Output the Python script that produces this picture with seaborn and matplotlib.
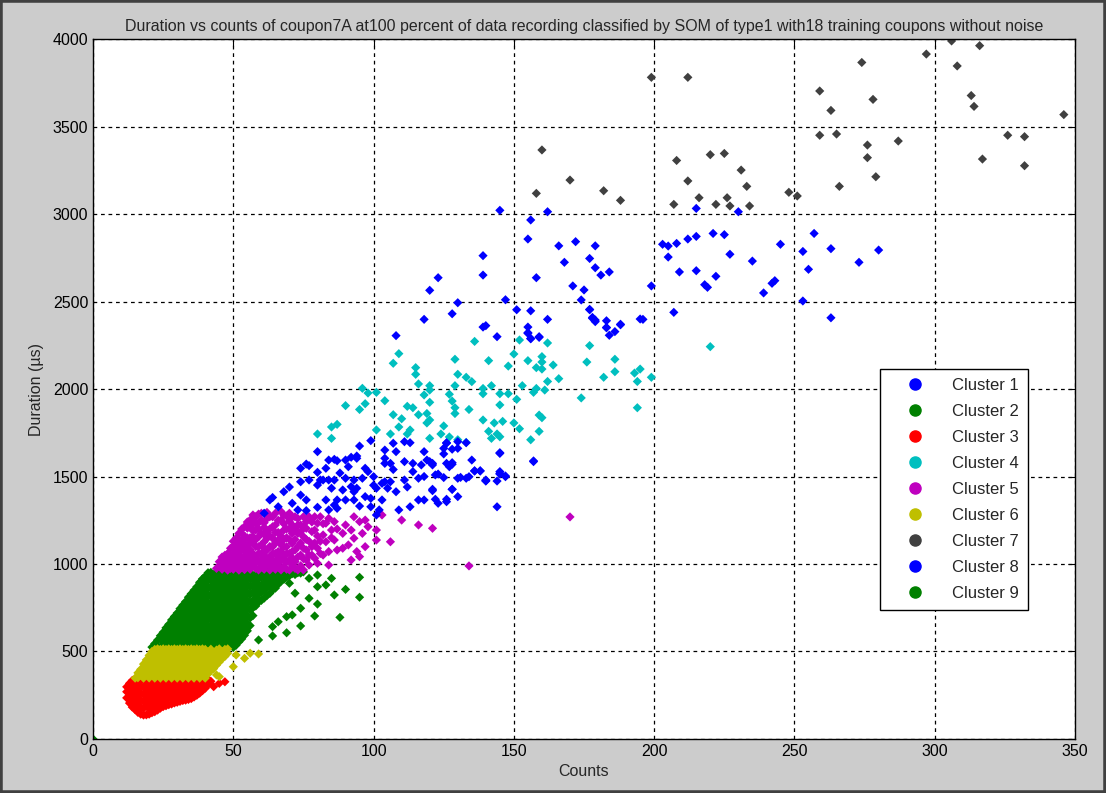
import numpy as np
import pandas as pd
import matplotlib
matplotlib.use("Agg")
import matplotlib.pyplot as plt
from matplotlib.lines import Line2D
from matplotlib.patches import Rectangle
import seaborn as sns

# ---- data (counts, duration in us) ----
cluster_names = ["Cluster %d" % i for i in range(1, 10)]
cluster_colors = ["#0000ff", "#008000", "#ff0000", "#00bfbf", "#bf00bf",
                  "#bfbf00", "#404040", "#0000ff", "#008000"]

# cluster 1 (upper blue)
c1_x = [145, 162, 156, 155, 139, 139, 123, 120, 130, 128, 118, 108, 139, 140, 144, 147, 151, 156, 162, 155,
        155, 156, 159, 166, 168, 172, 158, 177, 179, 179, 181, 184, 171, 175, 174, 177, 178, 179, 183, 184,
        186, 188, 196, 199, 207, 203, 205, 208, 212, 215, 221, 225, 205, 209, 215, 227, 235, 245, 222, 218,
        219, 239, 242, 243, 253, 257, 263, 255, 273, 280, 253, 263, 215, 230, 155, 156, 159, 177, 178, 179,
        183, 183, 195, 188]
c1_y = [3021, 3013, 2966, 2857, 2762, 2651, 2636, 2564, 2493, 2430, 2398, 2305, 2354, 2362, 2299, 2510, 2453, 2447, 2398, 2354,
        2322, 2287, 2299, 2818, 2724, 2842, 2636, 2746, 2818, 2693, 2651, 2669, 2589, 2566, 2509, 2453, 2409, 2394, 2350, 2307,
        2328, 2370, 2398, 2589, 2438, 2827, 2817, 2832, 2857, 2872, 2889, 2882, 2754, 2669, 2676, 2770, 2731, 2827, 2644, 2596,
        2581, 2549, 2604, 2619, 2786, 2889, 2802, 2684, 2724, 2794, 2503, 2407, 3032, 3013, 2318, 2289, 2295, 2455, 2404, 2385,
        2352, 2390, 2400, 2367]

# cluster 2 (dense green), one list of durations per count value
c2_counts = list(range(21, 76))
c2_durs = [
    [525], [525, 545], [530, 565], [525, 570, 590], [540, 585, 610],
    [525, 570, 615, 635], [545, 590, 635, 655], [525, 570, 615, 660, 680],
    [545, 590, 635, 680, 700], [525, 570, 615, 660, 705, 720],
    [545, 590, 635, 680, 725, 745], [525, 570, 615, 660, 705, 750, 765],
    [545, 590, 635, 680, 725, 770, 785], [525, 570, 615, 660, 705, 750, 795, 810],
    [545, 590, 635, 680, 725, 770, 815, 830], [525, 570, 615, 660, 705, 750, 795, 840, 850],
    [545, 590, 635, 680, 725, 770, 815, 860, 870], [525, 570, 615, 660, 705, 750, 795, 840, 885, 895],
    [545, 590, 635, 680, 725, 770, 815, 860, 905, 915], [525, 570, 615, 660, 705, 750, 795, 840, 885, 930],
    [545, 590, 635, 680, 725, 770, 815, 860, 905, 950],
    [522, 561, 607, 648, 694, 739, 781, 826, 871, 914, 952],
    [541, 586, 629, 672, 717, 760, 804, 849, 893, 936],
    [519, 563, 610, 651, 697, 742, 785, 830, 874, 917, 955],
    [538, 583, 626, 671, 715, 758, 803, 846, 890, 934, 957],
    [521, 566, 608, 654, 699, 741, 788, 829, 876, 919, 953],
    [543, 587, 631, 676, 718, 763, 806, 851, 895, 938],
    [520, 562, 606, 650, 695, 737, 783, 827, 870, 912, 954],
    [540, 584, 628, 673, 716, 761, 805, 848, 892, 935],
    [523, 565, 611, 653, 698, 744, 786, 833, 875, 918, 956],
    [536, 580, 627, 669, 714, 757, 802, 845, 889, 932],
    [555, 598, 641, 686, 731, 774, 819, 864, 907, 950],
    [572, 620, 663, 708, 752, 797, 842, 886, 928],
    [593, 636, 681, 727, 770, 814, 860, 903, 946],
    [618, 660, 704, 749, 793, 838, 881, 925, 955],
    [648, 692, 736, 781, 826, 869, 913, 952],
    [705, 750, 790, 836, 880, 921], [760, 806, 851, 894, 940], [782, 826, 869, 914, 953],
    [792, 838, 880, 925], [805, 850, 893, 940], [820, 866, 909, 951], [832, 877, 921],
    [851, 896, 940], [862, 906, 950], [884, 928], [902, 945], [912, 955], [925],
    [933, 958], [945], [940], [950], [948], [955],
]
c2_extra_x = [77, 80, 80, 83, 86, 90, 95, 95, 77, 80, 74, 71, 79, 74, 64, 69, 64, 88, 85, 70, 72, 69, 66, 59]
c2_extra_y = [918, 937, 870, 880, 823, 855, 924, 810, 804, 771, 747, 709, 703, 646, 642, 607, 589, 695, 918, 890,
              833, 699, 670, 566]

# cluster 3 (red)
c3_counts = list(range(12, 43))
c3_durs = [
    [235, 270, 298], [205, 245, 285, 318], [182, 222, 262, 302, 335],
    [168, 205, 245, 285, 325, 342], [152, 192, 232, 272, 312, 338],
    [142, 182, 222, 262, 302, 340], [137, 175, 215, 255, 295, 335],
    [138, 190, 230, 270, 310, 340], [142, 172, 210, 250, 290, 330],
    [150, 192, 232, 272, 312, 341], [156, 175, 215, 255, 295, 335],
    [165, 200, 238, 278, 318, 342], [176, 217, 257, 297, 337],
    [185, 220, 240, 280, 320, 341], [190, 225, 262, 302, 338],
    [196, 240, 282, 322, 342], [200, 230, 265, 305, 337], [206, 245, 287, 325],
    [210, 230, 268, 308, 340], [215, 250, 290, 328], [220, 265, 305, 338],
    [222, 248, 285, 325, 342], [226, 268, 308, 337], [231, 250, 290, 328],
    [240, 272, 312, 340], [250, 290, 330], [262, 300, 338], [276, 315, 342],
    [290, 325], [310, 340], [330],
]
c3_extra_x = [43, 47, 45]
c3_extra_y = [299, 327, 318]

# cluster 4 (cyan)
c4_x = [136, 152, 162, 177, 220, 109, 107, 129, 141, 150, 148, 155, 160, 160, 158, 160, 164, 176, 186, 186,
        182, 193, 195, 194, 199, 194, 174, 166, 162, 161, 157, 158, 153, 151, 148, 145, 145, 142, 139, 139,
        135, 133, 130, 129, 127, 128, 129, 129, 134, 139, 143, 146, 141, 142, 144, 145, 150, 152, 156, 159,
        159, 160, 115, 115, 116, 120, 120, 118, 120, 119, 120, 119, 125, 124, 127, 130, 133, 120, 112, 114,
        116, 110, 107, 104, 101, 101, 109, 106, 112, 113, 96, 97, 95, 87, 85, 85, 80, 90, 98]
c4_y = [2272, 2280, 2263, 2248, 2242, 2202, 2147, 2170, 2162, 2200, 2131, 2162, 2185, 2154, 2122, 2114, 2137, 2154, 2170, 2099,
        2067, 2091, 2114, 2043, 2067, 1893, 1949, 2059, 2043, 1994, 1981, 2003, 2019, 1941, 1973, 1973, 1909, 2019, 2003, 1973,
        2042, 2067, 2084, 2019, 1970, 1931, 1893, 1860, 1883, 1823, 1806, 1815, 1758, 1718, 1743, 1727, 1806, 1773, 1710, 1758,
        1851, 1836, 2122, 2084, 2029, 2019, 1994, 1966, 1924, 1860, 1823, 1806, 1789, 1743, 1726, 1710, 1695, 1718, 1901, 1893,
        1853, 1830, 1853, 1933, 1981, 1766, 1783, 1743, 1743, 1766, 2004, 1916, 1883, 1798, 1783, 1718, 1743, 1905, 1977]

# cluster 5 (magenta)
c5_counts = [44, 45, 46, 47, 48, 49, 50, 51, 52, 53, 54, 55, 56, 57, 58, 59, 60, 61, 62, 63, 64, 65, 66, 67, 68,
             69, 70, 71, 72, 73, 74, 75, 76, 77, 78, 79, 80, 81, 82, 83, 84, 85, 86, 87, 89, 90, 91, 92, 93, 94,
             95, 96, 97, 98, 101, 103, 106, 110, 116, 121, 134, 170]
c5_durs = [
    [975], [990, 1013], [970, 1005, 1040], [985, 1013, 1050], [965, 985, 1005, 1030, 1060],
    [975, 1000, 1040, 1090], [970, 995, 1023, 1060, 1100, 1130],
    [985, 1013, 1042, 1080, 1118, 1147], [965, 995, 1030, 1070, 1105, 1140, 1175],
    [980, 1010, 1042, 1090, 1130, 1175, 1200], [968, 1000, 1040, 1075, 1118, 1160, 1213],
    [985, 1020, 1050, 1100, 1150, 1205, 1240], [970, 1005, 1045, 1080, 1120, 1150, 1213, 1251],
    [990, 1013, 1060, 1120, 1156, 1190, 1240, 1280], [975, 1010, 1040, 1099, 1140, 1194, 1230, 1270],
    [966, 1013, 1060, 1099, 1156, 1200, 1236, 1285], [990, 1025, 1060, 1110, 1175, 1250, 1290],
    [970, 1013, 1050, 1090, 1127, 1170, 1210, 1236], [995, 1030, 1080, 1147, 1190, 1260, 1295],
    [966, 1005, 1040, 1100, 1160, 1200, 1270], [985, 1023, 1060, 1099, 1147, 1213, 1270],
    [970, 1010, 1060, 1120, 1180, 1223, 1290], [990, 1004, 1040, 1071, 1137, 1180, 1250],
    [966, 1020, 1071, 1110, 1160, 1251, 1300], [985, 1040, 1099, 1140, 1194, 1230, 1280],
    [970, 1013, 1060, 1099, 1150, 1200, 1274], [966, 1020, 1060, 1140, 1200, 1245, 1290],
    [994, 1035, 1071, 1118, 1175, 1223, 1270], [975, 1013, 1080, 1140, 1200, 1270],
    [966, 1040, 1099, 1175, 1223, 1260], [990, 1051, 1120, 1185, 1223], [966, 1030, 1090, 1156, 1210, 1270],
    [1023, 1080, 1140, 1204, 1242], [994, 1051, 1130, 1270], [1051, 1099, 1185, 1240], [1033, 1120, 1194, 1270],
    [1004, 1090, 1160, 1233], [1060, 1130, 1270], [1051, 1166, 1230], [1127, 1233], [994, 1071, 1261],
    [1150, 1194], [1137, 1242], [1080, 1200], [1090, 1175], [1223], [1109], [1023, 1194], [1147, 1270],
    [1071], [1042, 1242], [1175], [1099, 1251], [1213], [1137, 1194], [1280], [1127], [1251], [1223],
    [1204], [989], [1269],
]

# cluster 6 (yellow)
c6_counts = list(range(15, 49))
c6_durs = [
    [348], [350, 378], [365, 398], [348, 390, 428], [368, 410, 452], [349, 392, 435, 478],
    [370, 412, 455, 500], [348, 390, 433, 476, 512], [369, 411, 454, 497, 515],
    [348, 390, 433, 476, 512], [369, 411, 454, 497, 515], [348, 390, 433, 476, 512],
    [369, 411, 454, 497, 515], [348, 390, 433, 476, 512], [369, 411, 454, 497, 515],
    [348, 390, 433, 476, 512], [369, 411, 454, 497, 515], [348, 390, 433, 476, 512],
    [369, 411, 454, 497, 515], [348, 390, 433, 476, 512], [369, 411, 454, 497, 515],
    [348, 390, 433, 476, 512], [369, 411, 454, 497, 515], [348, 390, 433, 476, 512],
    [369, 411, 454, 497, 515], [348, 390, 433, 476, 512], [372, 414, 456, 498],
    [390, 432, 475, 513], [402, 445, 488], [422, 464, 508], [440, 482, 515], [458, 500],
    [472, 512], [490, 515],
]
c6_extra_x = [54, 56, 59, 51, 50, 45, 44]
c6_extra_y = [461, 490, 486, 480, 413, 356, 366]

# cluster 7 (dark grey)
c7_x = [199, 212, 297, 306, 316, 308, 274, 259, 278, 263, 313, 314, 346, 259, 265, 276, 287, 276, 279, 266,
        326, 332, 317, 332, 248, 251, 182, 188, 208, 220, 225, 212, 231, 233, 216, 226, 207, 222, 227, 234,
        158, 170, 160]
c7_y = [3781, 3781, 3914, 3989, 3962, 3846, 3866, 3703, 3655, 3592, 3677, 3615, 3568, 3450, 3457, 3394, 3417, 3322, 3213, 3158,
        3450, 3442, 3314, 3276, 3124, 3103, 3133, 3078, 3306, 3339, 3346, 3189, 3251, 3158, 3093, 3093, 3055, 3055, 3046, 3046,
        3118, 3194, 3366]

# cluster 8 (lower blue)
c8_x = [80, 74, 76, 77, 80, 83, 84, 86, 87, 90, 92, 94, 95, 99, 91, 97, 98, 77, 74, 68, 63, 66, 61, 71, 74, 76,
        73, 76, 81, 80, 82, 84, 86, 85, 83, 87, 86, 84, 80, 87, 89, 92, 93, 94, 90, 93, 95, 90, 93, 97, 99, 99,
        102, 101, 103, 104, 105, 106, 103, 100, 104, 104, 104, 107, 108, 111, 113, 106, 111, 114, 114, 111, 108,
        116, 118, 120, 121, 117, 125, 125, 126, 128, 127, 123, 121, 118, 123, 126, 128, 130, 131, 133, 135, 136,
        138, 140, 133, 130, 145, 145, 147, 144, 113, 116, 109, 101, 94, 130, 126, 128, 119, 121, 126, 128, 122,
        125, 130, 134, 140, 144, 145, 157, 121, 128, 122, 126, 157, 145, 145, 147, 138, 136, 140, 64, 70, 88, 96,
        100, 107, 112, 118]
c8_y = [1642, 1547, 1571, 1562, 1524, 1547, 1594, 1598, 1590, 1594, 1610, 1617, 1674, 1705, 1556, 1547, 1528, 1480, 1470,
        1413, 1366, 1327, 1290, 1347, 1394, 1366, 1309, 1305, 1480, 1451, 1480, 1480, 1480, 1433, 1366, 1366, 1337, 1309,
        1324, 1318, 1423, 1442, 1413, 1433, 1366, 1366, 1331, 1490, 1480, 1385, 1375, 1327, 1309, 1433, 1461, 1470, 1433,
        1470, 1366, 1499, 1575, 1604, 1651, 1690, 1642, 1699, 1693, 1575, 1585, 1575, 1528, 1480, 1413, 1490, 1642, 1585,
        1566, 1566, 1661, 1629, 1693, 1579, 1556, 1514, 1427, 1366, 1347, 1356, 1427, 1385, 1495, 1490, 1594, 1533, 1533,
        1476, 1693, 1661, 1636, 1528, 1499, 1327, 1327, 1366, 1309, 1280, 1604, 1699, 1690, 1656, 1594, 1575, 1575, 1570,
        1509, 1494, 1490, 1499, 1474, 1474, 1514, 1585, 1419, 1427, 1370, 1370, 1589, 1632, 1518, 1503, 1531, 1531, 1480,
        1380, 1440, 1520, 1490, 1450, 1540, 1440, 1500]

# cluster 9 (single point at the origin)
c9_x = [0]
c9_y = [0]


def expand(counts, durs):
    xs, ys = [], []
    for c, ds in zip(counts, durs):
        xs += [c] * len(ds)
        ys += ds
    return xs, ys


c2_x, c2_y = expand(c2_counts, c2_durs)
c2_x, c2_y = c2_x + c2_extra_x, c2_y + c2_extra_y
c3_x, c3_y = expand(c3_counts, c3_durs)
c3_x, c3_y = c3_x + c3_extra_x, c3_y + c3_extra_y
c5_x, c5_y = expand(c5_counts, c5_durs)
c6_x, c6_y = expand(c6_counts, c6_durs)
c6_x, c6_y = c6_x + c6_extra_x, c6_y + c6_extra_y

all_x = [c1_x, c2_x, c3_x, c4_x, c5_x, c6_x, c7_x, c8_x, c9_x]
all_y = [c1_y, c2_y, c3_y, c4_y, c5_y, c6_y, c7_y, c8_y, c9_y]

frames = []
for name, xs, ys in zip(cluster_names, all_x, all_y):
    frames.append(pd.DataFrame({"Counts": xs, "Duration": ys, "Cluster": name}))
df = pd.concat(frames, ignore_index=True)

# ---- plot ----
sns.set_style("white")
plt.rcParams["font.family"] = ["Liberation Sans", "DejaVu Sans"]

fig = plt.figure(figsize=(11.06, 7.93), dpi=100)
fig.patch.set_facecolor("#cccccc")
fig.patches.append(Rectangle((0, 0), 1, 1, transform=fig.transFigure, fill=False,
                             edgecolor="#404040", linewidth=4))
ax = fig.add_axes([0.0841, 0.0681, 0.8879, 0.8827])
ax.set_facecolor("white")

palette = dict(zip(cluster_names, cluster_colors))
sns.scatterplot(data=df, x="Counts", y="Duration", hue="Cluster", hue_order=cluster_names,
                palette=palette, marker="D", s=22, linewidth=0, legend=False, ax=ax)

ax.set_xlim(0, 350)
ax.set_ylim(0, 4000)
ax.set_xticks(range(0, 351, 50))
ax.set_yticks(range(0, 4001, 500))
ax.grid(True, color="black", linestyle=(0, (3, 3)), linewidth=0.9)
ax.set_axisbelow(True)
for sp in ax.spines.values():
    sp.set_color("black")
    sp.set_linewidth(1)
ax.tick_params(direction="in", length=5, top=True, right=True, labelsize=11.5, colors="black")
ax.set_xlabel("Counts", fontsize=11.5, labelpad=4)
ax.set_ylabel("Duration (\u00b5s)", fontsize=11.5, labelpad=6)
ax.set_title("Duration vs counts of coupon7A at100 percent of data recording classified by SOM "
             "of type1 with18 training coupons without noise", fontsize=11.5, pad=6)

handles = [Line2D([], [], marker="o", linestyle="", color=c, markersize=8) for c in cluster_colors]
leg = ax.legend(handles, cluster_names, loc="upper left", bbox_to_anchor=(0.801, 0.529),
                borderaxespad=0, frameon=True, fancybox=False, framealpha=1,
                edgecolor="black", labelspacing=0.66, handletextpad=0.6, borderpad=0.55,
                handlelength=3.2, prop={"size": 12})
leg.get_frame().set_linewidth(1)

fig.savefig("out.png", dpi=100, facecolor=fig.get_facecolor())
